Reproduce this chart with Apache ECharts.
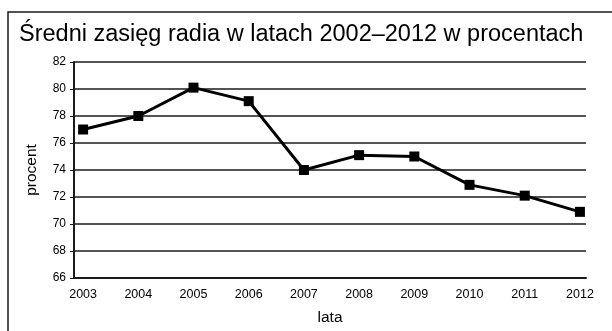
<!DOCTYPE html>
<html>
<head>
<meta charset="utf-8">
<script src="https://cdn.jsdelivr.net/npm/echarts@6/dist/echarts.min.js"></script>
<style>
  html, body { margin: 0; padding: 0; background: #fff; }
  #chart { width: 612px; height: 331px; }
</style>
</head>
<body>
<div id="chart"></div>
<script>
// Average radio reach, 2003–2012, in percent
const titleText = 'Średni zasięg radia w latach 2002–2012 w procentach';
const years = [2003, 2004, 2005, 2006, 2007, 2008, 2009, 2010, 2011, 2012];
const reach = [77, 78, 80.1, 79.1, 74, 75.1, 75, 72.9, 72.1, 70.9];
const yTicks = [66, 68, 70, 72, 74, 76, 78, 80, 82];

const font = 'Liberation Sans, Arial, sans-serif';
const chart = echarts.init(document.getElementById('chart'), null, { renderer: 'canvas' });

chart.setOption({
  animation: false,
  backgroundColor: '#fff',
  graphic: [{
    type: 'rect',
    shape: { x: 8, y: 12, width: 700, height: 400 },
    style: { fill: 'none', stroke: '#1a1a1a', lineWidth: 1.5 },
    z: -1
  }],
  title: {
    text: titleText,
    left: 14,
    top: 18,
    textStyle: { fontFamily: font, fontSize: 23.5, fontWeight: 'normal', color: '#000' }
  },
  grid: { left: 74, right: 26, top: 62, bottom: 52, containLabel: false },
  xAxis: {
    type: 'value',
    min: years[0] - 0.165,
    max: years[years.length - 1] + 0.11,
    name: 'lata',
    nameLocation: 'middle',
    nameGap: 32,
    nameTextStyle: { fontFamily: font, fontSize: 15.5, color: '#000' },
    axisLine: { show: true, lineStyle: { color: '#1a1a1a', width: 2 } },
    axisTick: { show: false },
    splitLine: { show: false },
    axisLabel: {
      customValues: years,
      formatter: v => String(v),
      fontFamily: font, fontSize: 12.5, color: '#000', margin: 10
    }
  },
  yAxis: {
    type: 'value',
    min: yTicks[0],
    max: yTicks[yTicks.length - 1],
    interval: 2,
    name: 'procent',
    nameLocation: 'middle',
    nameGap: 34,
    nameRotate: 90,
    nameTextStyle: { fontFamily: font, fontSize: 15.5, color: '#000' },
    axisLine: { show: true, lineStyle: { color: '#1a1a1a', width: 2 } },
    axisTick: { show: true, length: 4, lineStyle: { color: '#1a1a1a', width: 1 } },
    axisLabel: { fontFamily: font, fontSize: 12, color: '#000', margin: 8 },
    splitLine: { show: true, lineStyle: { color: '#1a1a1a', width: 1.6 } }
  },
  series: [{
    type: 'line',
    data: years.map((y, i) => [y, reach[i]]),
    symbol: 'rect',
    symbolSize: 10,
    itemStyle: { color: '#000' },
    lineStyle: { color: '#000', width: 3 },
    z: 5
  }]
});
</script>
</body>
</html>
